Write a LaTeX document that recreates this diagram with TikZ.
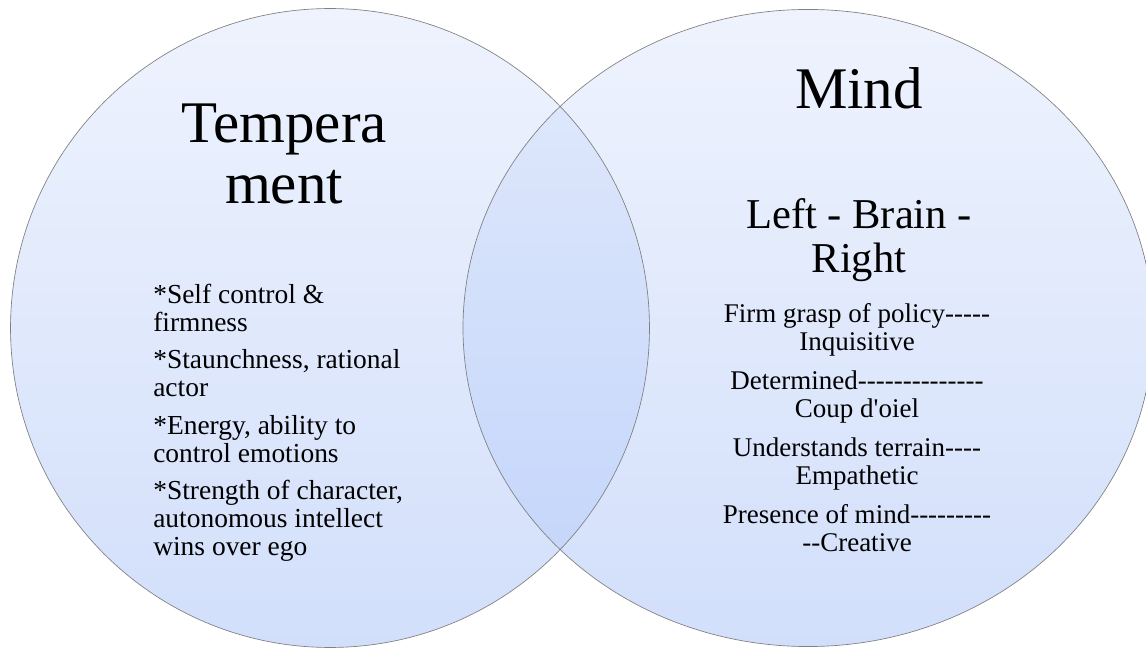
\documentclass[tikz,border=0pt]{standalone}
\usepackage{fontspec}
\setmainfont{Liberation Serif}[Ligatures=TeXOff]
\usetikzlibrary{positioning}
\definecolor{ringtop}{HTML}{EEF3FD}
\definecolor{ringbot}{HTML}{D2DFFB}
\definecolor{lenstop}{HTML}{E2EAFC}
\definecolor{lensbot}{HTML}{C0D3FA}
\definecolor{ringline}{HTML}{7F7F7F}
\begin{document}
\begin{tikzpicture}[x=0.75pt,y=-0.75pt,
	ring/.style={top color=ringtop,bottom color=ringbot},
	lens/.style={top color=lenstop,bottom color=lensbot},
	rim/.style={draw=ringline,line width=0.5pt},
	head/.style={inner sep=0pt,align=center,anchor=north,font=\fontsize{44.25}{45.75}\selectfont},
	subhead/.style={inner sep=0pt,align=center,anchor=north,font=\fontsize{31.9}{33}\selectfont},
	leftlist/.style={inner sep=0pt,align=left,anchor=north west,font=\fontsize{20.6}{21}\selectfont},
	rightlist/.style={inner sep=0pt,align=center,anchor=north,font=\fontsize{20.25}{21.5}\selectfont}]
	\useasboundingbox (0,0) rectangle (1146,648);
	\clip (0,0) rectangle (1146,648);
	% the two rings and their overlap
	\shade [ring] (330,328) ellipse [x radius=239.6pt,y radius=239.6pt];
	\shade [ring] (808,328) ellipse [x radius=258.75pt,y radius=238.9pt];
	\begin{scope}
		\clip (330,328) ellipse [x radius=239.6pt,y radius=239.6pt];
		\shade [lens] (808,328) ellipse [x radius=258.75pt,y radius=238.9pt];
	\end{scope}
	\draw [rim] (330,328) ellipse [x radius=239.6pt,y radius=239.6pt];
	\draw [rim] (808,328) ellipse [x radius=258.75pt,y radius=238.9pt];
	% headings
	\node [head] (temper) at (284,99.3) {\strut Tempera\\ment};
	\node [head] (mind) at (859,65.3) {\strut Mind};
	\node [subhead] (brain) at (859,197.2) {\strut Left - Brain -\\Right};
	% lists
	\node [leftlist] (traits) at (153,283.4) {\strut *Self control \&\\firmness\\[7.1pt]
		*Staunchness, rational\\actor\\[7.1pt]
		*Energy, ability to\\control emotions\\[7.1pt]
		*Strength of character,\\autonomous intellect\\wins over ego};
	\node [rightlist] (skills) at (857,301.9) {\strut Firm grasp of policy-----\\Inquisitive\\[7.2pt]
		Determined--------------\\Coup d'oiel\\[7.2pt]
		Understands terrain----\\Empathetic\\[7.2pt]
		Presence of mind---------\\--Creative};
\end{tikzpicture}
\end{document}
